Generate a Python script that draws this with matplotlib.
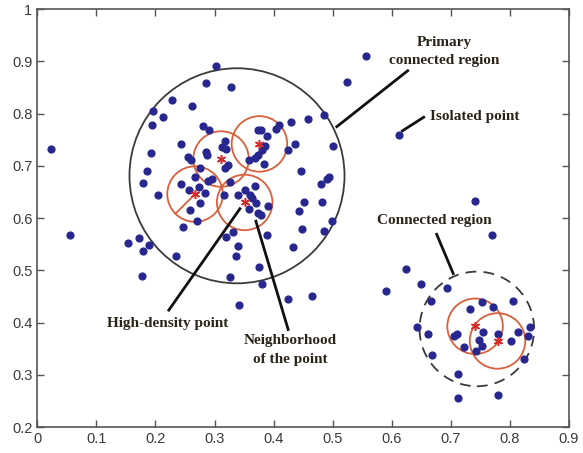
import numpy as np
import matplotlib.pyplot as plt
from matplotlib.patches import Ellipse

# sample points
px = [0.302, 0.285, 0.328, 0.228, 0.261, 0.196, 0.213, 0.194, 0.280, 0.290,
      0.244, 0.317, 0.312, 0.320, 0.193, 0.255, 0.260, 0.286, 0.287, 0.322,
      0.317, 0.186, 0.276, 0.179, 0.244, 0.267, 0.289, 0.296, 0.326, 0.257,
      0.273, 0.284, 0.205, 0.316, 0.276, 0.258, 0.271, 0.247, 0.525, 0.485,
      0.458, 0.429, 0.409, 0.404, 0.374, 0.378, 0.388, 0.500, 0.436, 0.385,
      0.380, 0.424, 0.374, 0.369, 0.358, 0.383, 0.446, 0.494, 0.490, 0.481,
      0.369, 0.351, 0.360, 0.339, 0.364, 0.371, 0.390, 0.358, 0.374, 0.378,
      0.452, 0.482, 0.443, 0.498, 0.448, 0.486, 0.172, 0.153, 0.189, 0.179,
      0.234, 0.177, 0.332, 0.320, 0.340, 0.336, 0.326, 0.342, 0.388, 0.375,
      0.380, 0.433, 0.425, 0.465,
      0.024, 0.055, 0.556, 0.612, 0.741, 0.770, 0.624, 0.590,
      0.649, 0.693, 0.666, 0.732, 0.753, 0.772, 0.806, 0.643, 0.662, 0.710,
      0.706, 0.755, 0.780, 0.748, 0.722, 0.753, 0.742, 0.801, 0.814, 0.834,
      0.830, 0.668, 0.823, 0.712, 0.712, 0.780]
py = [0.892, 0.859, 0.851, 0.826, 0.814, 0.805, 0.793, 0.778, 0.776, 0.768,
      0.742, 0.747, 0.737, 0.732, 0.724, 0.717, 0.711, 0.727, 0.721, 0.701,
      0.695, 0.691, 0.695, 0.668, 0.665, 0.678, 0.671, 0.674, 0.670, 0.654,
      0.659, 0.648, 0.645, 0.645, 0.628, 0.615, 0.595, 0.583, 0.860, 0.798,
      0.790, 0.784, 0.779, 0.770, 0.768, 0.768, 0.757, 0.738, 0.741, 0.738,
      0.730, 0.730, 0.721, 0.715, 0.711, 0.703, 0.691, 0.679, 0.675, 0.665,
      0.661, 0.654, 0.645, 0.644, 0.638, 0.628, 0.623, 0.617, 0.609, 0.606,
      0.631, 0.631, 0.613, 0.594, 0.580, 0.575, 0.562, 0.552, 0.548, 0.537,
      0.527, 0.490, 0.574, 0.564, 0.547, 0.527, 0.488, 0.434, 0.567, 0.507,
      0.474, 0.544, 0.446, 0.451,
      0.732, 0.567, 0.910, 0.759, 0.633, 0.567, 0.502, 0.460,
      0.474, 0.467, 0.441, 0.426, 0.439, 0.430, 0.441, 0.391, 0.379, 0.379,
      0.374, 0.382, 0.379, 0.367, 0.353, 0.355, 0.346, 0.365, 0.382, 0.391,
      0.374, 0.339, 0.330, 0.301, 0.255, 0.261]

# high-density points (red asterisks) and their neighbourhood radius
hd_x = [0.311, 0.376, 0.267, 0.351, 0.741, 0.779]
hd_y = [0.713, 0.742, 0.646, 0.630, 0.393, 0.365]
eps = 0.047

# connected regions
main_c = (0.338, 0.681)
main_r = 0.182
sub_c = (0.744, 0.388)
sub_r = 0.097

xticks = [0, 0.1, 0.2, 0.3, 0.4, 0.5, 0.6, 0.7, 0.8, 0.9]
xlabels = ['0', '0.1', '0.2', '0.3', '0.4', '0.5', '0.6', '0.7', '0.8', '0.9']
yticks = [0.2, 0.3, 0.4, 0.5, 0.6, 0.7, 0.8, 0.9, 1.0]
ylabels = ['0.2', '0.3', '0.4', '0.5', '0.6', '0.7', '0.8', '0.9', '1']

fig = plt.figure(figsize=(5.83, 4.53), dpi=100)
ax = fig.add_axes([0.064, 0.057, 0.912, 0.923])
ax.set_xlim(0, 0.9)
ax.set_ylim(0.2, 1.0)

# y radius so the circles look round on screen
pos = ax.get_position()
k = (pos.width * 583 / 0.9) / (pos.height * 453 / 0.8)

ax.add_patch(Ellipse(main_c, 2 * main_r, 2 * main_r * k, fill=False,
                     ec='#3a3a3a', lw=1.3, zorder=2))
ax.add_patch(Ellipse(sub_c, 2 * sub_r, 2 * sub_r * k, fill=False,
                     ec='#3a3a3a', lw=1.3, ls=(0, (6, 4)), zorder=2))
for cx, cy in zip(hd_x, hd_y):
    ax.add_patch(Ellipse((cx, cy), 2 * eps, 2 * eps * k, fill=False,
                         ec='#d8603c', lw=1.3, zorder=2))

# radius line in one neighbourhood
ang = np.deg2rad(225)
ax.plot([hd_x[2], hd_x[2] + eps * np.cos(ang)],
        [hd_y[2], hd_y[2] + eps * k * np.sin(ang)], color='#d8603c', lw=1.3)

ax.plot(px, py, 'o', color='#27278f', ms=4.9, mec='#27278f', zorder=3)
ax.plot(hd_x, hd_y, ls='none', marker=(6, 2, 0), color='#d42a2a', ms=6.5,
        mew=1.1, zorder=4)

# pointer lines
lw = 2.0
ax.plot([0.627, 0.507], [0.882, 0.775], color='#111111', lw=lw)
ax.plot([0.654, 0.618], [0.793, 0.767], color='#111111', lw=lw)
ax.plot([0.676, 0.704], [0.569, 0.494], color='#111111', lw=lw)
ax.plot([0.2226, 0.343], [0.424, 0.618], color='#111111', lw=lw)
ax.plot([0.370, 0.4246], [0.594, 0.387], color='#111111', lw=lw)

tf = dict(family='Liberation Serif', weight='bold', fontsize=11,
          color='#2a2418', linespacing=1.55)
ax.text(0.689, 0.919, 'Primary\nconnected region', ha='center', va='center', **tf)
ax.text(0.6646, 0.795, 'Isolated point', ha='left', va='center', **tf)
ax.text(0.6713, 0.595, 'Connected region', ha='center', va='center', **tf)
ax.text(0.2215, 0.3985, 'High-density point', ha='center', va='center', **tf)
ax.text(0.4284, 0.348, 'Neighborhood\nof the point', ha='center', va='center', **tf)

ax.set_xticks(xticks)
ax.set_xticklabels(xlabels)
ax.set_yticks(yticks)
ax.set_yticklabels(ylabels)
ax.tick_params(direction='in', length=5, width=1, color='#555555',
               top=True, right=True, labelsize=10.5, labelcolor='#3a3a3a')
for lab in ax.get_xticklabels() + ax.get_yticklabels():
    lab.set_family('Liberation Sans')
for s in ax.spines.values():
    s.set_color('#555555')
    s.set_linewidth(1.2)

fig.savefig('out.png', dpi=100)
